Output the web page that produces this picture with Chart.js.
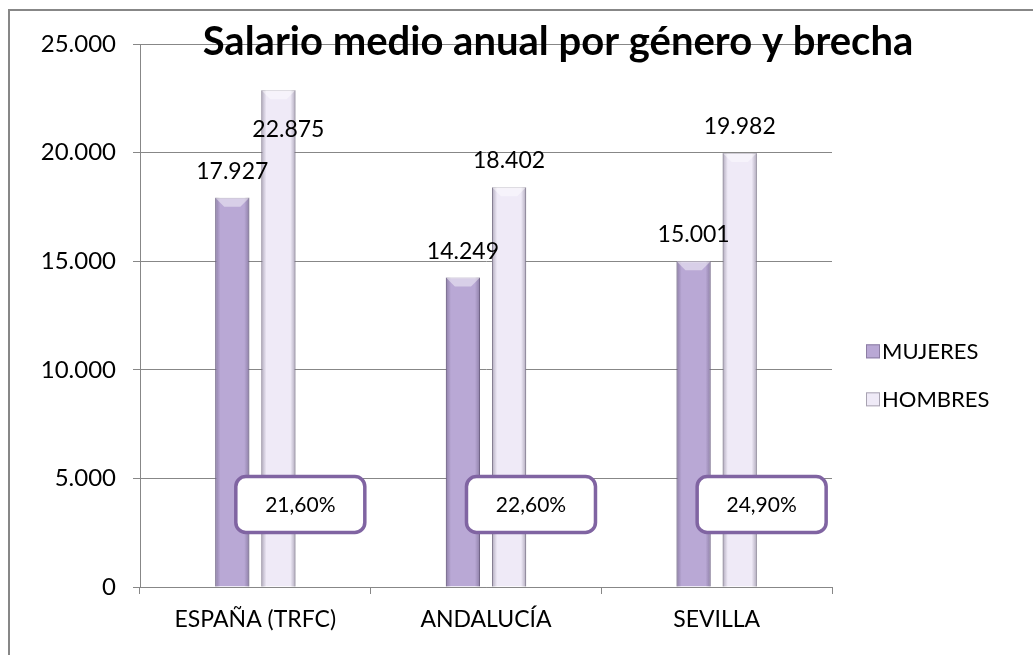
<!DOCTYPE html>
<html>
<head>
<meta charset="utf-8">
<script src="https://cdn.jsdelivr.net/npm/chart.js@4"></script>
<style>
  html, body { margin: 0; padding: 0; background: #fff; overflow: hidden; }
  canvas { display: block; }
</style>
</head>
<body>
<canvas id="salarioChart" width="1033" height="655"></canvas>
<script>
const categorias = ["ESPAÑA (TRFC)", "ANDALUCÍA", "SEVILLA"];
const mujeres = [17927, 14249, 15001];
const hombres = [22875, 18402, 19982];
const brecha = ["21,60%", "22,60%", "24,90%"];
const ticksY = [0, 5000, 10000, 15000, 20000, 25000];

const FONT = "Lato, 'Open Sans', sans-serif";
const TITULO_BASE = 55;

// formato español: 17.927
function miles(v) {
  return String(v).replace(/\B(?=(\d{3})+(?!\d))/g, ".");
}

// marco del gráfico (solo arriba e izquierda, como en el recorte)
const marco = {
  id: 'marco',
  beforeDraw(chart) {
    const c = chart.ctx;
    c.save();
    c.fillStyle = '#fff';
    c.fillRect(0, 0, chart.width, chart.height);
    c.strokeStyle = '#878787';
    c.lineWidth = 2;
    c.beginPath();
    c.moveTo(chart.width, 10);
    c.lineTo(9, 10);
    c.lineTo(9, chart.height);
    c.stroke();
    c.restore();
  }
};

// sombreado tipo bisel en los bordes de cada barra
const bisel = {
  id: 'bisel',
  afterDatasetsDraw(chart) {
    const c = chart.ctx;
    chart.data.datasets.forEach((ds, i) => {
      chart.getDatasetMeta(i).data.forEach(bar => {
        const x0 = bar.x - bar.width / 2, x1 = bar.x + bar.width / 2;
        const top = bar.y, bot = bar.base;
        c.save();
        let g = c.createLinearGradient(x0, 0, x1, 0);
        g.addColorStop(0, 'rgba(60,50,80,0.35)');
        g.addColorStop(0.15, 'rgba(60,50,80,0)');
        g.addColorStop(0.85, 'rgba(60,50,80,0)');
        g.addColorStop(1, 'rgba(60,50,80,0.35)');
        c.fillStyle = g;
        c.fillRect(x0, top, x1 - x0, bot - top);
        // bisel superior
        const d = 9;
        c.fillStyle = 'rgba(255,255,255,0.45)';
        c.beginPath();
        c.moveTo(x0, top); c.lineTo(x1, top); c.lineTo(x1 - d, top + d); c.lineTo(x0 + d, top + d);
        c.closePath(); c.fill();
        c.restore();
      });
    });
  }
};

// etiquetas de valor, cajas de brecha, leyenda y título
const extras = {
  id: 'extras',
  afterDraw(chart) {
    const c = chart.ctx;
    const area = chart.chartArea;
    const xs = chart.scales.x, ys = chart.scales.y;
    c.save();
    // valores encima de las barras (si chocan con el título, se bajan dentro de la barra)
    c.font = "23px " + FONT;
    c.fillStyle = '#000';
    c.textAlign = 'center';
    c.textBaseline = 'alphabetic';
    chart.data.datasets.forEach((ds, i) => {
      chart.getDatasetMeta(i).data.forEach((bar, j) => {
        let tx = bar.x, ty = bar.y - 19;
        if (ty - 17 < TITULO_BASE + 10) { ty = bar.y + 47; tx = bar.x + 10; }
        c.fillText(miles(ds.data[j]), tx, ty);
      });
    });
    // cajas de brecha salarial
    const catW = xs.getPixelForValue(1) - xs.getPixelForValue(0);
    brecha.forEach((txt, j) => {
      const cx = xs.getPixelForValue(j) + catW * 0.195;
      const cy = ys.getPixelForValue(3800);
      const w = 129, h = 56, r = 10;
      c.beginPath();
      c.roundRect(cx - w / 2, cy - h / 2, w, h, r);
      c.fillStyle = '#fff';
      c.fill();
      c.lineWidth = 3.5;
      c.strokeStyle = '#8064A2';
      c.stroke();
      c.fillStyle = '#000';
      c.font = "21px " + FONT;
      c.textBaseline = 'middle';
      c.fillText(txt, cx, cy + 1);
    });
    // leyenda
    c.textAlign = 'left';
    c.textBaseline = 'middle';
    c.font = "22px " + FONT;
    chart.data.datasets.forEach((ds, i) => {
      const lx = area.right + 34;
      const ly = area.top + area.height * 0.566 + i * 48;
      c.fillStyle = ds.backgroundColor;
      c.fillRect(lx, ly - 7, 14, 14);
      c.strokeStyle = ds.borderColor;
      c.lineWidth = 1;
      c.strokeRect(lx + 0.5, ly - 6.5, 13, 13);
      c.fillStyle = '#000';
      c.fillText(ds.label, lx + 16, ly + 1);
    });
    // título
    c.font = "bold 40px " + FONT;
    c.textAlign = 'center';
    c.textBaseline = 'alphabetic';
    c.fillText("Salario medio anual por género y brecha", area.left + area.width * 0.604, TITULO_BASE);
    c.restore();
  }
};

const ctx = document.getElementById("salarioChart").getContext('2d');
const chart = new Chart(ctx, {
  type: 'bar',
  data: {
    labels: categorias,
    datasets: [
      {
        label: "MUJERES",
        data: mujeres,
        backgroundColor: "#B9A8D5",
        borderColor: "#8C7DA3",
        borderWidth: 1,
        categoryPercentage: 0.4,
        barPercentage: 0.74
      },
      {
        label: "HOMBRES",
        data: hombres,
        backgroundColor: "#EFEAF7",
        borderColor: "#A8A3B1",
        borderWidth: 1,
        categoryPercentage: 0.4,
        barPercentage: 0.74
      }
    ]
  },
  options: {
    responsive: false,
    animation: false,
    layout: { padding: { left: 0, top: 44, right: 201, bottom: 0 } },
    plugins: {
      legend: { display: false },
      title: { display: false },
      tooltip: { enabled: false }
    },
    scales: {
      x: {
        offset: true,
        grid: { display: true, drawOnChartArea: false, drawTicks: true, tickLength: 7, color: '#878787', offset: true },
        border: { display: true, color: '#878787', width: 1 },
        ticks: { color: '#000', font: { family: FONT, size: 23 }, padding: 12 },
        afterFit(scale) { scale.height = 68; }
      },
      y: {
        min: 0,
        max: 25000,
        afterBuildTicks(scale) { scale.ticks = ticksY.map(v => ({ value: v })); },
        grid: { color: '#878787', tickLength: 7, drawTicks: true },
        border: { display: true, color: '#878787', width: 1 },
        ticks: {
          color: '#000',
          font: { family: FONT, size: 24 },
          padding: 17,
          callback: v => miles(v)
        },
        afterFit(scale) { scale.width = 140; }
      }
    }
  },
  plugins: [marco, bisel, extras]
});
</script>
</body>
</html>
